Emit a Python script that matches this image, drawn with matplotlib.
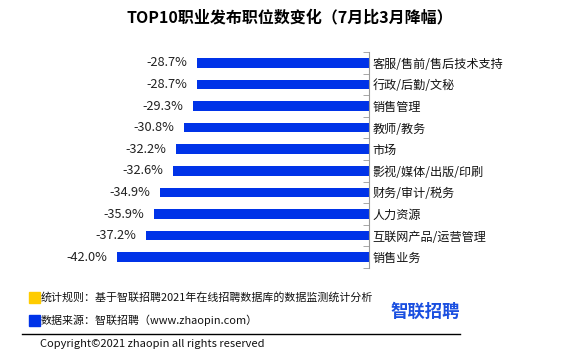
import matplotlib.pyplot as plt
from matplotlib.patches import Rectangle
import numpy as np

plt.rcParams['font.family'] = ['Noto Sans CJK SC', 'DejaVu Sans']

categories = ['客服/售前/售后技术支持', '行政/后勤/文秘', '销售管理', '教师/教务', '市场',
              '影视/媒体/出版/印刷', '财务/审计/税务', '人力资源', '互联网产品/运营管理', '销售业务']
values = [-28.7, -28.7, -29.3, -30.8, -32.2, -32.6, -34.9, -35.9, -37.2, -42.0]

title = 'TOP10职业发布职位数变化（7月比3月降幅）'
note_rule = '统计规则：基于智联招聘2021年在线招聘数据库的数据监测统计分析'
note_source = '数据来源：智联招聘（www.zhaopin.com）'
copyright_text = 'Copyright©2021 zhaopin all rights reserved'

W, H = 581, 364
fig = plt.figure(figsize=(W / 100, H / 100), dpi=100)
ax = fig.add_axes([117 / W, 1 - 268 / H, 252 / W, 216 / H])

y = np.arange(len(categories))
bar_color = '#0033e8'
ax.barh(y, values, height=0.45, color=bar_color)
ax.set_xlim(-42, 0)
ax.set_ylim(len(categories) - 0.5, -0.5)

for yi, v in zip(y, values):
    ax.annotate(f'{v:.1f}%', (v, yi), xytext=(-7, 0), textcoords='offset points',
                ha='right', va='center', fontsize=9.2, color='#222222')

for s in ['top', 'bottom', 'left']:
    ax.spines[s].set_visible(False)
ax.spines['right'].set_color('#999999')
ax.xaxis.set_visible(False)
ax.yaxis.tick_right()
ax.set_yticks(y)
ax.set_yticklabels(categories, fontsize=8.7, color='#111111')
ax.set_yticks(np.arange(-0.5, len(categories), 1), minor=True)
ax.tick_params(axis='y', which='major', length=0, pad=2.5)
ax.tick_params(axis='y', which='minor', direction='in', length=4, color='#999999', right=True)

fig.text(290 / W, 1 - 17 / H, title, ha='center', va='center', fontsize=11.5, fontweight='bold')

# footer
fig.patches.append(Rectangle((29 / W, 1 - 303 / H), 11 / W, 11 / H, transform=fig.transFigure,
                             color='#ffcc00'))
fig.patches.append(Rectangle((29 / W, 1 - 326 / H), 11 / W, 11 / H, transform=fig.transFigure,
                             color=bar_color))
fig.text(41 / W, 1 - 297 / H, note_rule, ha='left', va='center', fontsize=7.9, color='#111111')
fig.text(41 / W, 1 - 320 / H, note_source, ha='left', va='center', fontsize=7.9, color='#111111')
fig.text(425 / W, 1 - 312 / H, '智联招聘', ha='center', va='center', fontsize=12.5,
         fontweight='heavy', color='#1a4fe0')
fig.add_artist(plt.Line2D([22 / W, 460 / W], [1 - 334 / H, 1 - 334 / H], color='black', lw=1))
fig.text(40 / W, 1 - 344 / H, copyright_text, ha='left', va='center', fontsize=8, color='#111111')

fig.savefig('out.png', dpi=100)
